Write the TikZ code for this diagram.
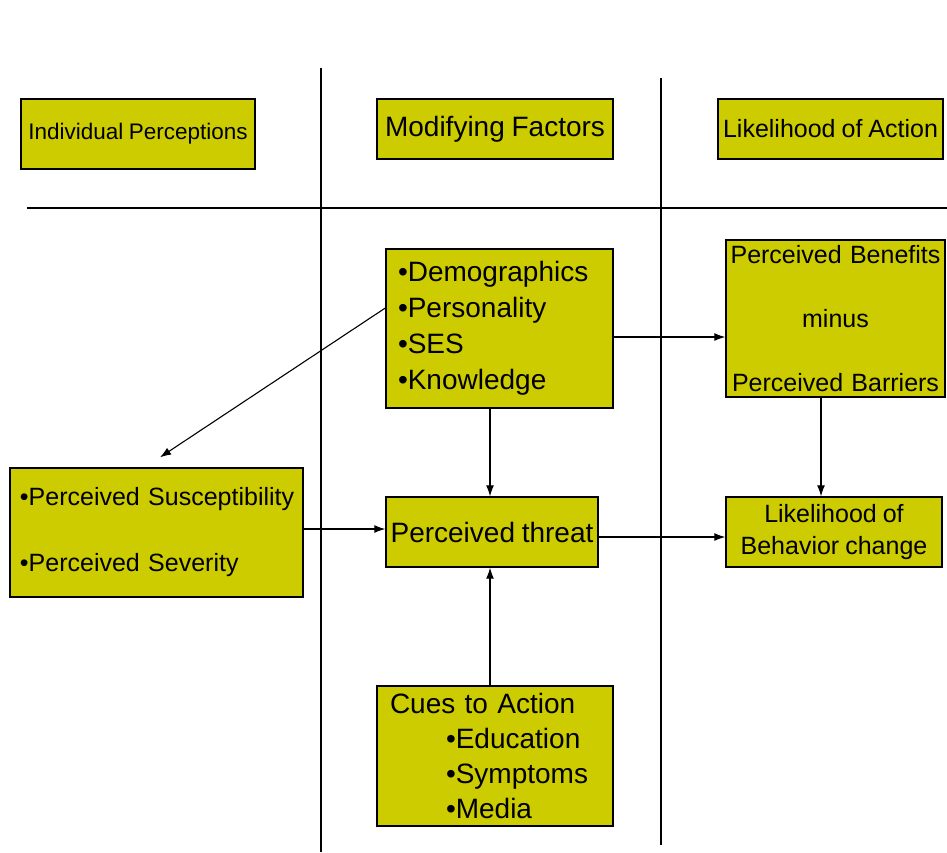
\documentclass[tikz,border=0pt]{standalone}
\usepackage{fontspec}
\setmainfont{Liberation Sans}
\usetikzlibrary{arrows.meta}
\definecolor{boxfill}{RGB}{204,204,0}
\tikzset{
  box/.style={draw=black, line width=1.4pt, fill=boxfill, inner sep=0pt, anchor=center},
  divider/.style={draw=black, line width=1.4pt},
  arr/.style={draw=black, line width=1.1pt, -{Latex[length=11pt,width=8pt]}}
}
% font size with tight word spacing and no hyphenation
\newcommand{\fs}[2]{\fontsize{#1}{#2}\selectfont\spaceskip=0.24em plus 0.05em\hyphenpenalty=10000\exhyphenpenalty=10000}
\begin{document}
\begin{tikzpicture}[x=1pt,y=-1pt]
\useasboundingbox (0,0) rectangle (947,852);

% column and header dividers
\coordinate (h1) at (27,208);
\coordinate (h2) at (947,208);
\coordinate (v1t) at (321,68);
\coordinate (v1b) at (321,852);
\coordinate (v2t) at (661,78);
\coordinate (v2b) at (661,845);
\draw[divider] (h1) -- (h2);
\draw[divider] (v1t) -- (v1b);
\draw[divider] (v2t) -- (v2b);

% column headings
\node[box, minimum width=234pt, minimum height=70pt, font=\fs{22.5}{26}] (ip) at (138,134) {Individual Perceptions};
\node[box, minimum width=236pt, minimum height=60pt, font=\fs{28}{34}] (mf) at (495,129) {Modifying Factors};
\node[box, minimum width=225pt, minimum height=60pt, font=\fs{25}{30}] (la) at (830.5,129) {Likelihood of Action};

% model boxes
\node[box, minimum height=159pt, text width=203pt, inner xsep=12pt, align=left, font=\fs{28}{36}] (demo) at (499.5,328.5)
  {•Demographics\\•Personality\\•SES\\•Knowledge};
\node[box, minimum height=157pt, text width=215pt, inner xsep=2pt, align=center, font=\fs{25}{64}] (ben) at (835.5,318.5)
  {Perceived Benefits\\minus\\Perceived Barriers};
\node[box, minimum height=129pt, text width=283pt, inner xsep=5pt, align=left, font=\fs{25}{66}] (sus) at (156.5,532.5)
  {\hspace*{5pt}•Perceived Susceptibility\\\hspace*{5pt}•Perceived Severity};
\node[box, minimum width=212pt, minimum height=70pt, font=\fs{28}{34}] (thr) at (492,532) {Perceived threat};
\node[box, minimum width=216pt, minimum height=70pt, align=center, font=\fs{25}{32}] (beh) at (834,532)
  {Likelihood of\\Behavior change};
\node[box, minimum height=140pt, text width=210pt, inner xsep=13pt, align=left, font=\fs{28}{35}] (cues) at (495,756)
  {Cues to Action\\\hspace*{56pt}•Education\\\hspace*{56pt}•Symptoms\\\hspace*{56pt}•Media};

% connectors
\draw[arr] ([yshift=20.5pt]demo.west) -- ([xshift=3.5pt,yshift=10pt]sus.north);
\draw[arr] ([xshift=-2pt]thr.north |- demo.south) -- ([xshift=-2pt]thr.north);
\draw[arr] ([yshift=-8.5pt]demo.east) -- ([yshift=-8.5pt]demo.east -| ben.west);
\draw[arr] ([xshift=-14.5pt]ben.south) -- ([xshift=-14.5pt]ben.south |- beh.north);
\draw[arr] ([yshift=3.5pt]sus.east) -- ([yshift=3.5pt]sus.east -| thr.west);
\draw[arr] ([yshift=-5pt]thr.east) -- ([yshift=-5pt]thr.east -| beh.west);
\draw[arr] ([xshift=-5pt]cues.north) -- ([xshift=-5pt]cues.north |- thr.south);
\end{tikzpicture}
\end{document}
